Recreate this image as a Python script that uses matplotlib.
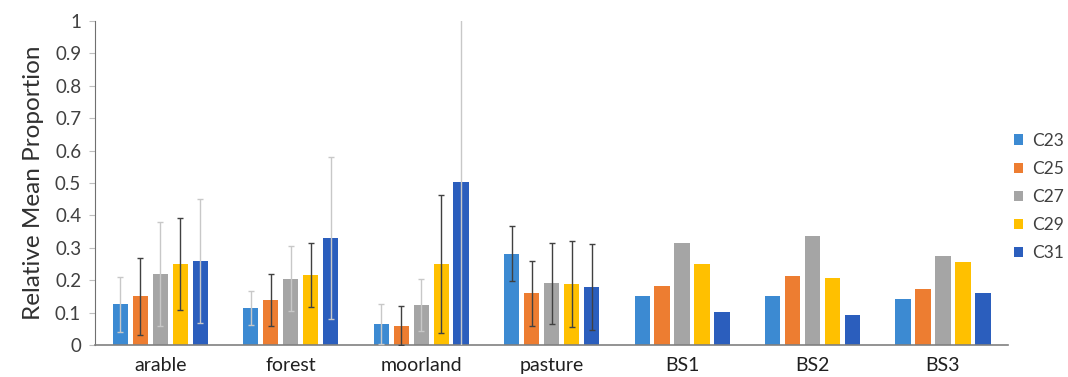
import matplotlib.pyplot as plt
import numpy as np

plt.rcParams['font.family'] = ['Lato', 'DejaVu Sans']

groups = ['arable', 'forest', 'moorland', 'pasture', 'BS1', 'BS2', 'BS3']
series = ['C23', 'C25', 'C27', 'C29', 'C31']

c23 = [0.125, 0.115, 0.065, 0.282, 0.152, 0.152, 0.142]
c25 = [0.150, 0.140, 0.060, 0.160, 0.181, 0.213, 0.172]
c27 = [0.220, 0.205, 0.123, 0.190, 0.314, 0.336, 0.274]
c29 = [0.250, 0.215, 0.250, 0.189, 0.250, 0.208, 0.255]
c31 = [0.260, 0.330, 0.503, 0.179, 0.101, 0.093, 0.160]

# standard errors, none for the BS groups
err23 = [0.085, 0.053, 0.061, 0.084, np.nan, np.nan, np.nan]
err25 = [0.118, 0.080, 0.060, 0.100, np.nan, np.nan, np.nan]
err27 = [0.160, 0.100, 0.080, 0.126, np.nan, np.nan, np.nan]
err29 = [0.142, 0.099, 0.212, 0.133, np.nan, np.nan, np.nan]
err31 = [0.192, 0.251, 0.560, 0.134, np.nan, np.nan, np.nan]

values = [c23, c25, c27, c29, c31]
errors = [err23, err25, err27, err29, err31]
colors = ['#3C8AD2', '#ED7D31', '#A5A5A5', '#FFC000', '#2B5EBD']

fig = plt.figure(figsize=(10.68, 3.77), dpi=100)
ax = fig.add_axes([0.089, 0.085, 0.855, 0.859])

x = np.arange(len(groups))
pitch = 0.153
width = 0.117
for i, (name, vals, errs, col) in enumerate(zip(series, values, errors, colors)):
    xs = x + (i - 2) * pitch
    ax.bar(xs, vals, width, color=col, label=name, zorder=2)
    vals = np.array(vals)
    errs = np.array(errs)
    # darker whiskers for C25/C29 and the pasture group
    dark = np.array([i in (1, 3) or g == 3 for g in range(len(groups))])
    for mask, ecol in ((dark, '#404040'), (~dark, '#C8C8C8')):
        ax.errorbar(xs[mask], vals[mask], yerr=errs[mask], fmt='none',
                    ecolor=ecol, elinewidth=1, capsize=2, capthick=1, zorder=3)

ax.set_xlim(-0.5, len(groups) - 0.5)
ax.set_ylim(0, 1)
ax.set_yticks(np.arange(0, 1.01, 0.1))
ax.set_yticklabels(['0', '0.1', '0.2', '0.3', '0.4', '0.5', '0.6', '0.7', '0.8', '0.9', '1'])
ax.set_xticks(x)
ax.set_xticklabels(groups)
ax.tick_params(axis='x', length=0, pad=9, labelsize=14, labelcolor='#202020')
ax.tick_params(axis='y', length=4, color='#BFBFBF', labelsize=13.5,
               labelcolor='#404040', pad=6)
ax.set_ylabel('Relative Mean Proportion', fontsize=17.5, labelpad=8, color='#303030')

for s in ('top', 'right'):
    ax.spines[s].set_visible(False)
ax.spines['left'].set_color('#707070')
ax.spines['bottom'].set_color('#808080')
ax.spines['bottom'].set_linewidth(1.2)

fig.legend(loc='upper left', bbox_to_anchor=(0.938, 0.68), frameon=False,
           fontsize=12.5, handlelength=0.55, handleheight=0.55, handletextpad=0.5,
           labelspacing=0.7, labelcolor='#404040', borderpad=0.2)

fig.savefig('out.png', dpi=100)
